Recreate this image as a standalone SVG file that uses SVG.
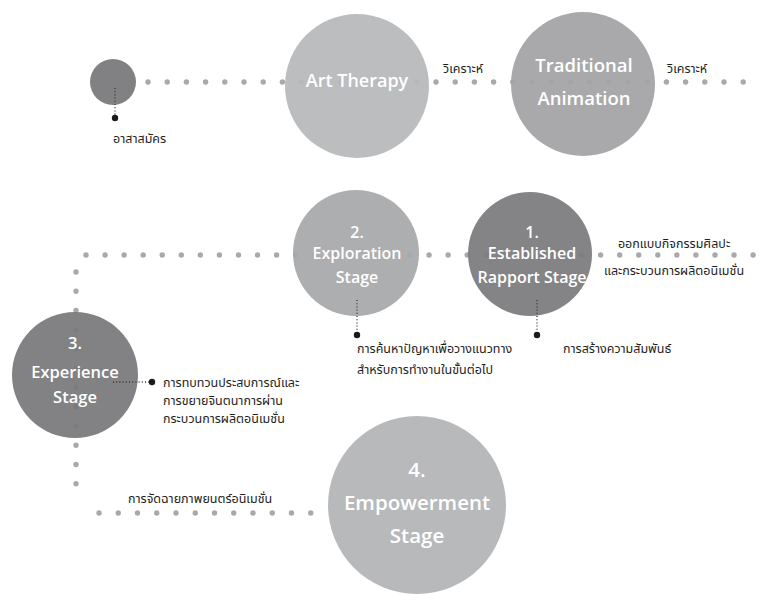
<svg xmlns="http://www.w3.org/2000/svg" width="763" height="595" viewBox="0 0 763 595">
<style>
.row{fill:none;stroke:#a9a9ab;stroke-width:5.4;stroke-linecap:round}
.lead{fill:none;stroke:#333;stroke-width:1.3;stroke-dasharray:1 2.2}
.pin{fill:#1a1a1a}
.node{fill-opacity:0.93}
.ct{font-family:"Open Sans","Noto Sans",sans-serif;font-weight:600;fill:#fff;text-anchor:middle}
.th{font-family:"Noto Sans Thai","Noto Sans","DejaVu Sans",sans-serif;font-size:12.5px;fill:#1e1e1e}
</style>
<rect width="763" height="595" fill="#fff"/>
<g id="connectors">
<path class="row" d="M148 82 H762" stroke-dasharray="0 19.2"/>
<path class="row" d="M86 255 H762" stroke-dasharray="0 19.06"/>
<path class="row" d="M76 272 V503" stroke-dasharray="0 19.25"/>
<path class="row" d="M99 513 H330" stroke-dasharray="0 19.25"/>
</g>
<g id="volunteer">
<circle class="node" cx="113" cy="82" r="23" fill="#77777a"/>
<path class="lead" d="M115 88 V116"/>
<circle class="pin" cx="115" cy="118" r="3.2"/>
<text class="th" x="113" y="143">อาสาสมัคร</text>
</g>
<g id="art-therapy">
<circle class="node" cx="357" cy="86" r="72" fill="#b7b8ba"/>
<text class="ct" x="357" y="87" font-size="18">Art Therapy</text>
</g>
<text class="th" x="443" y="73">วิเคราะห์</text>
<g id="traditional-animation">
<circle class="node" cx="583" cy="84" r="72" fill="#a2a3a5"/>
<text class="ct" x="584" y="72" font-size="18.5">Traditional</text>
<text class="ct" x="584" y="105" font-size="18.5">Animation</text>
</g>
<text class="th" x="667" y="73">วิเคราะห์</text>
<g id="stage2">
<circle class="node" cx="356" cy="253" r="63" fill="#a7a8aa"/>
<text class="ct" x="357" y="238" font-size="16">2.</text>
<text class="ct" x="357" y="259" font-size="16">Exploration</text>
<text class="ct" x="357" y="283" font-size="16">Stage</text>
<path class="lead" d="M357 300 V332"/>
<circle class="pin" cx="357" cy="335" r="3.2"/>
<text class="th" x="357" y="353">การค้นหาปัญหาเพื่อวางแนวทาง</text>
<text class="th" x="357" y="374">สำหรับการทำงานในขั้นต่อไป</text>
</g>
<g id="stage1">
<circle class="node" cx="530" cy="254" r="62" fill="#7b7b7e"/>
<text class="ct" x="532" y="238" font-size="16">1.</text>
<text class="ct" x="532" y="259" font-size="16">Established</text>
<text class="ct" x="532" y="283" font-size="16">Rapport Stage</text>
<path class="lead" d="M537 300 V332"/>
<circle class="pin" cx="537" cy="335" r="3.2"/>
<text class="th" x="563" y="353">การสร้างความสัมพันธ์</text>
<text class="th" x="674" y="248" text-anchor="middle">ออกแบบกิจกรรมศิลปะ</text>
<text class="th" x="674" y="275" text-anchor="middle">และกระบวนการผลิตอนิเมชั่น</text>
</g>
<g id="stage3">
<circle class="node" cx="75" cy="375" r="63" fill="#78787b"/>
<text class="ct" x="75" y="349" font-size="16.5">3.</text>
<text class="ct" x="75" y="378" font-size="16.5">Experience</text>
<text class="ct" x="75" y="403" font-size="16.5">Stage</text>
<path class="lead" d="M113 382 H149"/>
<circle class="pin" cx="152" cy="382" r="3.2"/>
<text class="th" x="163" y="387">การทบทวนประสบการณ์และ</text>
<text class="th" x="163" y="405">การขยายจินตนาการผ่าน</text>
<text class="th" x="163" y="423">กระบวนการผลิตอนิเมชั่น</text>
</g>
<g id="stage4">
<circle class="node" cx="417" cy="505" r="89" fill="#b3b4b6"/>
<text class="ct" x="417" y="477" font-size="20.5">4.</text>
<text class="ct" x="417" y="510" font-size="20.5">Empowerment</text>
<text class="ct" x="417" y="543" font-size="20.5">Stage</text>
<text class="th" x="128" y="503">การจัดฉายภาพยนตร์อนิเมชั่น</text>
</g>
</svg>
